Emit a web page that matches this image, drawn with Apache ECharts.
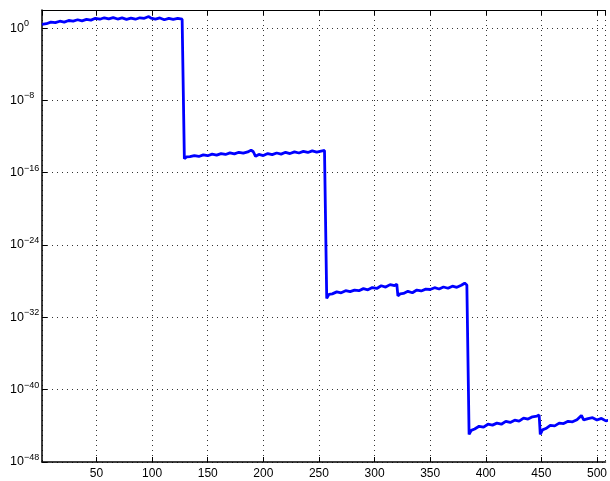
<!DOCTYPE html>
<html>
<head>
<meta charset="utf-8">
<script src="https://cdn.jsdelivr.net/npm/echarts@6/dist/echarts.min.js"></script>
<style>
html,body{margin:0;padding:0;background:#fff;}
#chart{width:610px;height:481px;}
</style>
</head>
<body>
<div id="chart"></div>
<script>
// x positions (sample index)
const xValues = [
  1,2,5,9,13,17,21,25,29,33,37,41,45,49,53,57,61,65,69,73,77,81,85,89,93,97,99,103,107,111,115,119,123,127,128,
  129,131,134,138,142,146,150,154,158,162,166,170,174,178,182,186,189,191,193,196,200,204,208,212,216,220,224,228,232,236,240,244,248,252,255,256,
  257,259,262,266,270,274,278,282,286,290,294,298,302,306,310,314,318,320,321,323,326,330,334,338,342,346,350,354,358,362,366,370,374,378,381,383,384,
  385,387,390,394,398,402,406,410,414,418,422,426,430,434,438,442,446,448,449,451,454,458,462,466,470,474,478,482,486,488,492,496,500,504,508,512
];
// base-10 exponent (log10) of each value
const logValues = [
  0.40,0.58,0.48,0.66,0.60,0.76,0.66,0.84,0.78,0.92,0.80,0.96,0.88,1.08,0.98,1.14,1.02,1.16,1.00,1.12,0.96,1.10,0.98,1.14,1.08,1.28,1.10,0.98,1.12,0.92,1.08,0.96,1.08,0.98,1.05,
  -14.45,-14.25,-14.22,-14.10,-14.20,-14.02,-14.12,-13.95,-14.05,-13.88,-13.98,-13.80,-13.92,-13.74,-13.84,-13.70,-13.50,-13.68,-14.18,-13.98,-14.10,-13.88,-14.00,-13.82,-13.94,-13.74,-13.88,-13.70,-13.82,-13.64,-13.76,-13.58,-13.72,-13.60,-13.54,-13.62,
  -29.90,-29.45,-29.40,-29.18,-29.28,-29.05,-29.15,-28.98,-29.05,-28.82,-28.95,-28.70,-28.80,-28.50,-28.65,-28.38,-28.50,-28.32,-29.62,-29.40,-29.35,-29.12,-29.28,-28.98,-29.08,-28.88,-28.92,-28.72,-28.86,-28.64,-28.78,-28.55,-28.68,-28.45,-28.22,-28.42,-28.30,
  -44.95,-44.50,-44.35,-44.05,-44.15,-43.82,-43.92,-43.70,-43.82,-43.50,-43.62,-43.38,-43.48,-43.15,-43.25,-43.00,-42.92,-42.80,-44.95,-44.45,-44.30,-43.95,-44.00,-43.70,-43.75,-43.50,-43.55,-43.32,-42.85,-43.35,-43.20,-43.10,-43.35,-43.18,-43.45,-43.35
];
const xTicks = [50,100,150,200,250,300,350,400,450,500];
const yTickExponents = [0,-8,-16,-24,-32,-40,-48];

const seriesData = xValues.map((x, i) => [x, logValues[i]]);

const chart = echarts.init(document.getElementById('chart'));
const font = 'Liberation Sans, Arial, Helvetica, sans-serif';
const gridLine = {show: true, lineStyle: {color: '#333', type: [1, 4], width: 1}};

chart.setOption({
  animation: false,
  backgroundColor: '#fff',
  grid: {left: 42, top: 10, right: 0, bottom: 19},
  xAxis: [{
    type: 'value', min: 1, max: 507.6, splitNumber: 10,
    position: 'bottom',
    axisLine: {show: true, onZero: false, lineStyle: {color: '#000', width: 1.5}},
    axisTick: {show: true, inside: true, length: 5, lineStyle: {color: '#000'}},
    axisLabel: {show: true, margin: 6, color: '#000', fontSize: 12, fontFamily: font,
      showMinLabel: false, showMaxLabel: false,
      formatter: v => xTicks.indexOf(v) >= 0 ? String(v) : ''},
    splitLine: gridLine
  }, {
    type: 'value', min: 1, max: 507.6, splitNumber: 10,
    position: 'top',
    axisLine: {show: true, onZero: false, lineStyle: {color: '#000', width: 1}},
    axisTick: {show: true, inside: true, length: 5, lineStyle: {color: '#000'}},
    axisLabel: {show: false},
    splitLine: {show: false}
  }],
  yAxis: {
    type: 'value', min: -48, max: 2, interval: 8,
    axisLine: {show: true, onZero: false, lineStyle: {color: '#000', width: 1.5}},
    axisTick: {show: true, inside: true, length: 5, lineStyle: {color: '#000'}},
    splitLine: gridLine,
    axisLabel: {
      show: true, margin: 32, align: 'left', color: '#000', fontFamily: font,
      showMaxLabel: false,
      formatter: v => {
        if (yTickExponents.indexOf(v) < 0) return '';
        return '{b|10}{s|' + (v < 0 ? '\u2212' + (-v) : v) + '}';
      },
      rich: {
        b: {fontSize: 12.5, fontFamily: font, color: '#000', lineHeight: 18},
        s: {fontSize: 9, fontFamily: font, color: '#000', verticalAlign: 'top', lineHeight: 9}
      }
    }
  },
  series: [{
    type: 'line', xAxisIndex: 0, data: seriesData, showSymbol: false, symbol: 'none',
    lineStyle: {color: '#0000ff', width: 2.8}, itemStyle: {color: '#0000ff'}
  }]
});
</script>
</body>
</html>
